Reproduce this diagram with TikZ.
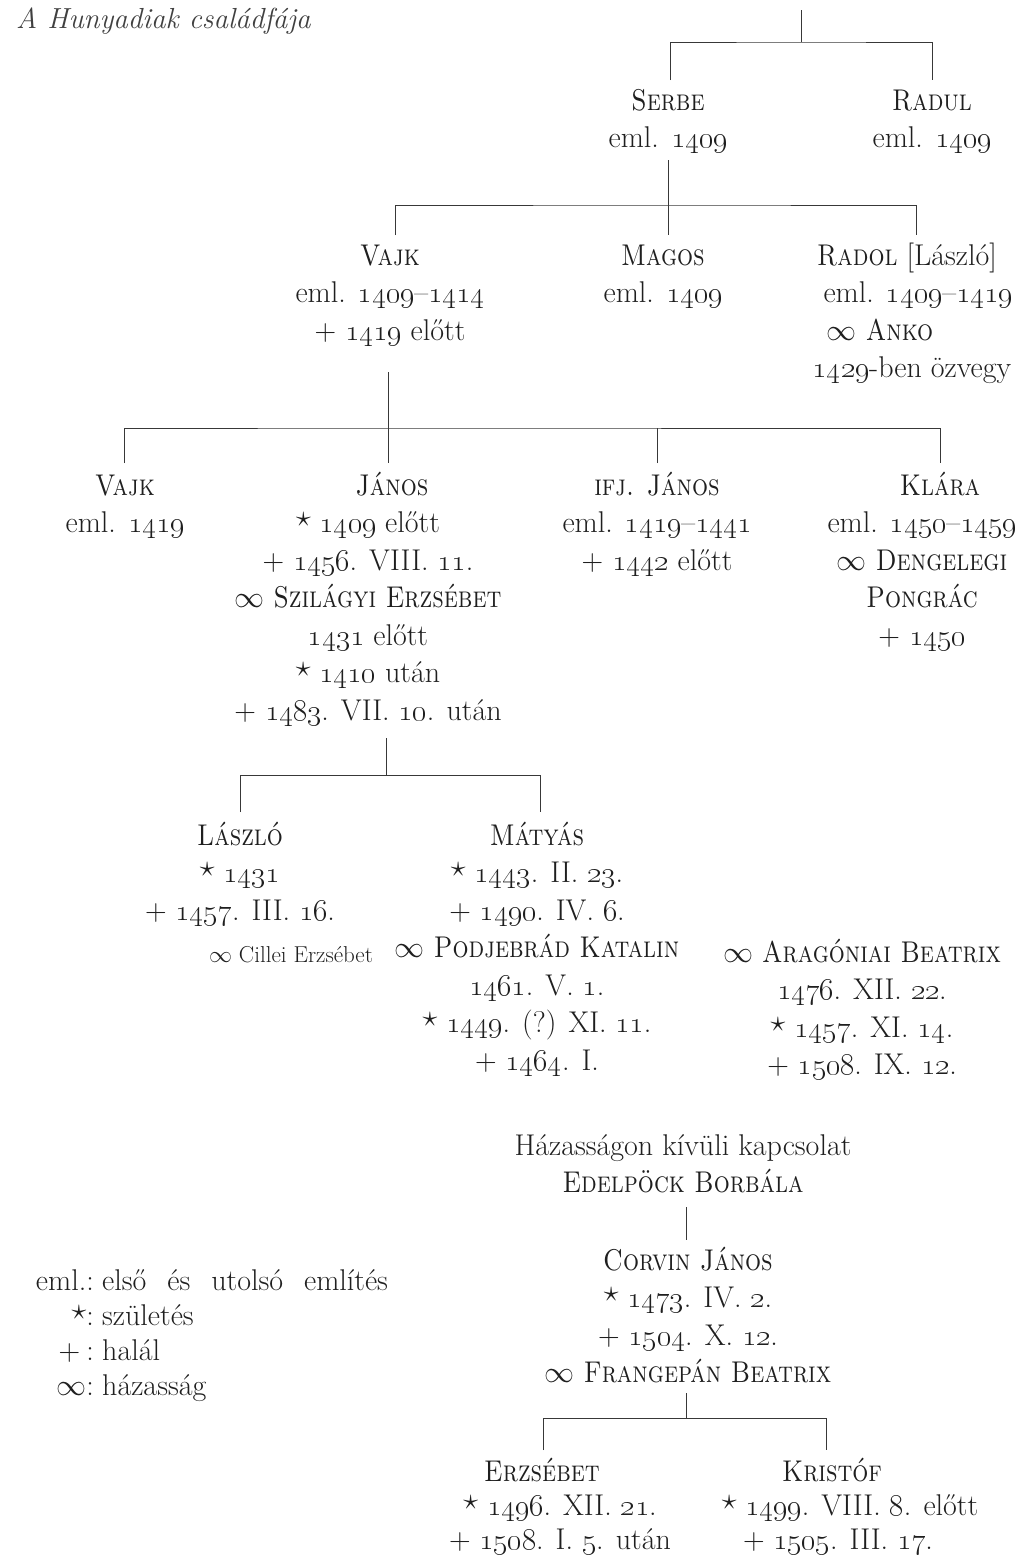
\documentclass[tikz,border=0pt]{standalone}
\usepackage{fix-cm}
\usepackage{graphicx}
\newcommand\os[1]{\oldstylenums{#1}}
\newcommand\pf{\fontsize{30}{37.5}\selectfont}
\newcommand\blk[1]{\begin{tabular}[t]{@{}c@{}}#1\end{tabular}}
\newcommand\shr[2]{\hspace*{#1}\hspace*{#1}#2}
\newcommand\shl[2]{#2\hspace*{#1}\hspace*{#1}}
\newcommand\nm[1]{\scalebox{0.84}[1]{\textsc{#1}}}
\newcommand\bd{\raisebox{0.2em}{$\star$}}
\newcommand\dd{+}
\newcommand\mm{$\infty$}
\begin{document}
\begin{tikzpicture}[x=1pt,y=-1pt,
  every node/.style={inner sep=0pt, text=black!88},
  person/.style={anchor=base, font=\pf},
  legendrow/.style={anchor=base east, font=\fontsize{30}{35}\selectfont},
  legendtext/.style={anchor=base west, font={\fontsize{30}{35}\selectfont\spaceskip=0.7em\relax}},
  link/.style={draw=black!78, line width=1pt}]
\useasboundingbox[fill=white] (0,0) rectangle (1031,1561);

\node[anchor=base west, font=\fontsize{29}{32}\selectfont\itshape, text=black!75] (title) at (16,28) {A Hunyadiak családfája};

% generation 1
\node[person] (serbe) at (668,110) {\blk{\nm{Serbe}\\eml. \os{1409}}};
\node[person] (radul) at (932,110) {\blk{\nm{Radul}\\eml. \os{1409}}};

% generation 2
\node[person] (vajk) at (390,265) {\blk{\nm{Vajk}\\eml. \os{1409}--\os{1414}\\\dd\ \os{1419} előtt}};
\node[person] (magos) at (663,265) {\blk{\nm{Magos}\\eml. \os{1409}}};
\node[person] (radol) at (918,265) {\blk{\shl{11pt}{\nm{Radol} [László]}\\eml. \os{1409}--\os{1419}\\\shl{38pt}{\mm\ \nm{Anko}}\\\shl{6pt}{\os{1429}-ben özvegy}}};

% generation 3
\node[person] (vajk2) at (125,495) {\blk{\nm{Vajk}\\eml. \os{1419}}};
\node[person] (janos) at (368,495) {\blk{\shr{24pt}{\nm{János}}\\\bd\ \os{1409} előtt\\\dd\ \os{1456}. VIII. \os{11}.\\\mm\ \nm{Szilágyi Erzsébet}\\\os{1431} előtt\\\bd\ \os{1410} után\\\dd\ \os{1483}. VII. \os{10}. után}};
\node[person] (ifj) at (657,495) {\blk{\nm{ifj. János}\\eml. \os{1419}--\os{1441}\\\dd\ \os{1442} előtt}};
\node[person] (klara) at (922,495) {\blk{\shr{18pt}{\nm{Klára}}\\eml. \os{1450}--\os{1459}\\\mm\ \nm{Dengelegi}\\\nm{Pongrác}\\\dd\ \os{1450}}};

% generation 4
\node[person] (laszlo) at (240,845) {\blk{\nm{László}\\\bd\ \os{1431}\\\dd\ \os{1457}. III. \os{16}.}};
\node[anchor=base, font=\fontsize{23}{25}\selectfont] (cillei) at (291,962) {$\infty$ Cillei Erzsébet};
\node[person] (matyas) at (537,845) {\blk{\nm{Mátyás}\\\bd\ \os{1443}. II. \os{23}.\\\dd\ \os{1490}. IV. \os{6}.\\\mm\ \nm{Podjebrád Katalin}\\\os{1461}. V. \os{1}.\\\bd\ \os{1449}. (?) XI. \os{11}.\\\dd\ \os{1464}. I.}};
\node[person] (beatrix) at (862,962) {\blk{\mm\ \nm{Aragóniai Beatrix}\\\os{1476}. XII. \os{22}.\\\bd\ \os{1457}. XI. \os{14}.\\\dd\ \os{1508}. IX. \os{12}.}};

% illegitimate line
\node[person] (haz) at (683,1155) {\blk{Házasságon kívüli kapcsolat\\\nm{Edelpöck Borbála}}};
\node[person] (corvin) at (688,1270) {\blk{\nm{Corvin János}\\\bd\ \os{1473}. IV. \os{2}.\\\dd\ \os{1504}. X. \os{12}.\\\mm\ \nm{Frangepán Beatrix}}};
\node[person, font=\fontsize{30}{34}\selectfont] (erzsebet) at (560,1481) {\blk{\shl{18pt}{\nm{Erzsébet}}\\\bd\ \os{1496}. XII. \os{21}.\\\dd\ \os{1508}. I. \os{5}. után}};
\node[person, font=\fontsize{30}{34}\selectfont] (kristof) at (850,1481) {\blk{\shl{18pt}{\nm{Kristóf}}\\\bd\ \os{1499}. VIII. \os{8}. előtt\\\shl{12pt}{\dd\ \os{1505}. III. \os{17}.}}};

% legend
\node[legendrow] (lk1) at (94,1290) {eml.:};
\node[legendtext] (lt1) at (102,1290) {első és utolsó említés};
\node[legendrow] (lk2) at (94,1325) {\bd:};
\node[legendtext] (lt2) at (102,1325) {születés};
\node[legendrow] (lk3) at (94,1360) {\dd\kern0.2em:};
\node[legendtext] (lt3) at (102,1360) {halál};
\node[legendrow] (lk4) at (94,1395) {\mm:};
\node[legendtext] (lt4) at (102,1395) {házasság};

% connectors
\coordinate (r0) at (801,10);
\coordinate (b1) at (801,42);
\coordinate (r1) at (670,80);
\coordinate (r2) at (932,80);
\draw[link] (r0) -- (b1);
\draw[link] (r1) |- (b1) -| (r2);

\coordinate (s0) at (668,160);
\coordinate (b2) at (668,205);
\coordinate (s1) at (395,235);
\coordinate (s2) at (668,235);
\coordinate (s3) at (916,235);
\draw[link] (s0) -- (s2);
\draw[link] (s1) |- (b2) -| (s3);

\coordinate (v0) at (388,372);
\coordinate (b3) at (388,428);
\coordinate (v1) at (124,463);
\coordinate (v2) at (388,463);
\coordinate (v3) at (657,463);
\coordinate (v4) at (940,463);
\draw[link] (v0) -- (v2);
\draw[link] (v1) |- (b3) -| (v4);
\draw[link] (v3) -- (v3 |- b3);

\coordinate (j0) at (386,738);
\coordinate (b4) at (386,775);
\coordinate (j1) at (240,812);
\coordinate (j2) at (540,812);
\draw[link] (j0) -- (b4);
\draw[link] (j1) |- (b4) -| (j2);

\coordinate (e0) at (686,1207);
\coordinate (e1) at (686,1240);
\draw[link] (e0) -- (e1);

\coordinate (c0) at (686,1393);
\coordinate (b5) at (686,1418);
\coordinate (c1) at (543,1450);
\coordinate (c2) at (826,1450);
\draw[link] (c0) -- (b5);
\draw[link] (c1) |- (b5) -| (c2);
\end{tikzpicture}
\end{document}
